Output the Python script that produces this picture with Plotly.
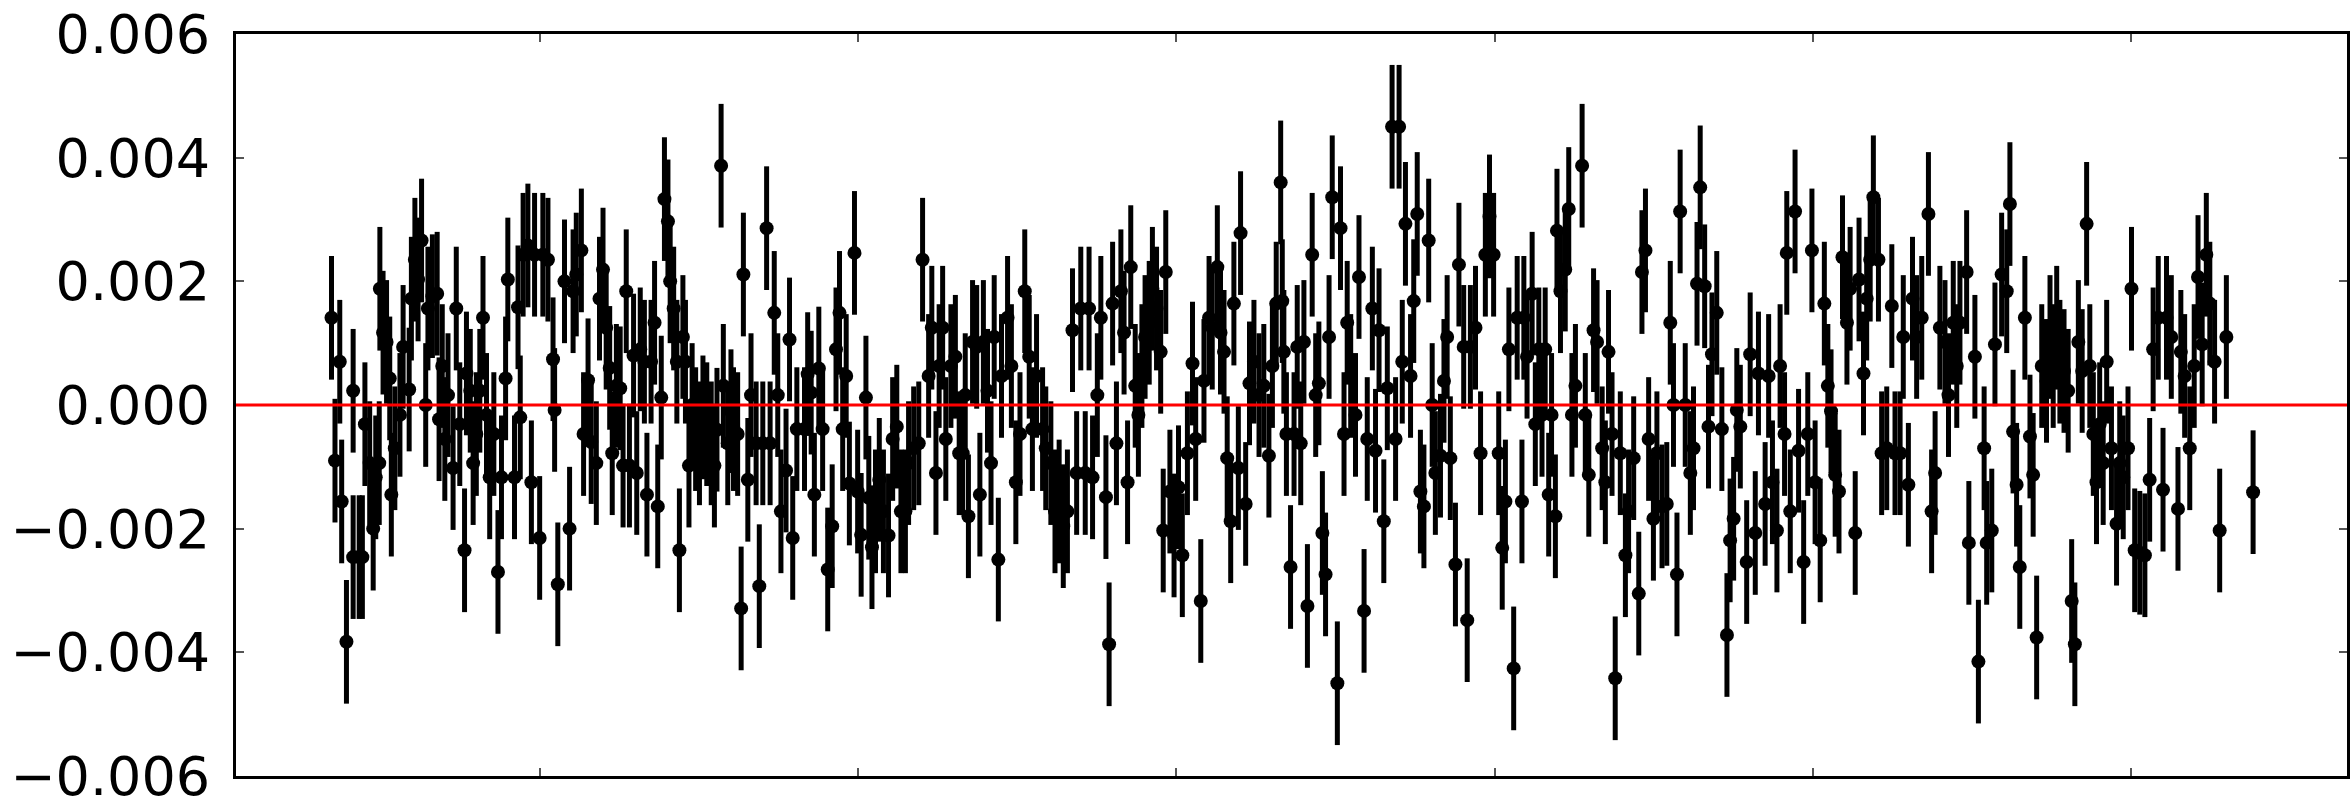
import plotly.graph_objects as go

# Residuals (units of 1e-3) against time; every point carries the same 1-sigma error.
time_1 = [34.6, 35.7, 37.2, 37.8, 39.3, 41.4, 41.4, 43.3, 44.3, 45.1, 46.6, 47.7, 48.5, 49.6, 49.8,
          50.8, 51.9, 52.9, 53.4, 54.5, 56.1, 57.1, 59.0, 59.7, 60.8, 61.8, 62.9, 64.2, 64.9, 66.3,
          67.8, 68.4, 69.4, 70.2, 71.2, 72.8, 73.8, 74.9, 76.4, 77.0, 78.2, 79.1, 80.1, 81.2, 82.2,
          83.3, 84.3, 85.6, 86.9, 88.0, 89.3, 90.0, 92.1, 93.2, 93.9, 94.8, 96.3, 97.4, 98.4, 100.0,
          101.0, 102.6, 104.2, 104.7, 105.7]
resid_1 = [1.41, -0.90, 0.70, -1.56, -3.83, 0.23, -2.46, -2.46, -2.46, -0.31, -0.94, -2.00, -1.17, -0.94, 1.88,
           1.17, 1.02, 0.43, -1.45, -0.70, -0.16, 0.94, 0.25, 1.72, 2.35, 2.03, 2.66, 0.00, 1.56, 1.76,
           1.80, -0.23, 0.63, -0.55, 0.16, -1.02, 1.56, -0.31, -2.35, 0.51, 0.23, -0.94, -0.47, 0.23, 1.41,
           -0.16, -1.17, -0.47, -2.70, -1.17, 0.43, 2.03, -1.17, 1.58, -0.20, 2.43, 2.58, -1.25, 2.43, -2.15,
           2.43, 2.35, 0.74, -0.08, -2.90]

time_2 = [107.8, 109.4, 110.5, 111.5, 113.1, 113.8, 115.2, 116.2, 117.8, 118.8, 119.9, 120.9, 122.0, 122.8,
          124.1, 125.3, 126.2, 127.2, 128.2, 129.5, 130.5, 131.6, 132.9, 133.7, 135.0, 136.1, 137.1, 138.2,
          139.2, 140.3, 141.0, 142.1, 143.1, 143.9, 145.0, 145.8, 146.9, 147.9, 149.0, 150.2, 151.3, 152.5,
          153.9, 154.9, 155.7, 157.0, 157.7, 159.1, 160.1, 160.9, 162.2, 163.3, 164.0, 165.4, 166.4, 168.0,
          169.0, 170.1, 171.3, 172.4, 173.7, 174.8, 175.8, 177.4, 178.5, 179.5, 180.8]
resid_2 = [2.00, -2.00, 1.84, 2.11, 2.50, -0.47, 0.40, -0.60, -0.94, 1.72, 2.19, 1.25, 0.60, -0.78,
           0.31, 0.27, -0.98, 1.84, -0.98, 0.80, -1.10, 0.90, 0.70, -1.45, 0.70, 1.33, -1.64, 0.12,
           3.33, 2.97, 2.00, 1.56, 0.70, -2.35, 1.10, 0.70, -0.98, 0.00, -0.39, -0.62, -0.20, -0.31,
           -0.62, -0.98, -0.40, 3.87, 0.31, -0.62, -0.10, -0.39, -0.47, -3.29, 2.11, -1.21, 0.16, -0.62,
           -2.93, -0.62, 2.86, -0.62, 1.49, 0.16, -1.72, -1.06, 1.06, -2.15, -0.39]

time_3 = [183.2, 184.2, 185.3, 186.3, 187.7, 188.9, 190.5, 191.9, 193.1, 194.2, 195.2, 196.3, 197.3, 198.9,
          199.9, 201.0, 202.5, 203.4, 204.4, 205.5, 206.7, 208.0, 209.6, 210.9, 212.2, 213.5, 214.9, 215.9,
          217.5, 219.1, 220.3, 222.2, 223.2, 224.5, 225.5, 226.6, 227.6, 229.2, 230.6, 231.8, 232.9, 233.7,
          234.7, 236.0, 237.3, 238.3, 239.4, 240.7, 241.8, 242.8, 244.1, 245.1, 247.0, 248.2, 249.6, 250.9,
          252.4, 253.8, 254.8, 256.1]
resid_3 = [-0.39, 0.50, 0.20, -1.45, 0.59, -0.39, -2.66, -1.96, 0.90, 1.49, -0.39, 0.47, -1.27, 2.46,
           -1.40, -2.10, 0.12, -1.50, -2.30, -1.72, -1.21, -1.72, -2.11, -0.55, -0.35, -1.72, -1.72, -0.94,
           -0.70, -0.62, 2.35, 0.47, 1.25, -1.10, 0.63, 1.25, -0.55, 0.63, 0.78, -0.78, -0.78, 0.16,
           -1.80, 1.02, 0.94, -1.45, 1.02, 0.23, -0.94, 1.10, -2.50, 0.47, 1.41, 0.63, -1.25, -0.47,
           1.84, 0.78, -0.39, 0.47]

time_4 = [258.0, 259.0, 260.6, 261.9, 263.2, 264.5, 265.8, 267.4, 268.7, 270.0, 271.4, 272.6, 273.7, 275.2,
          276.3, 277.9, 278.9, 280.0, 281.2, 282.6, 283.6, 284.7, 285.7, 287.1, 288.1, 289.2, 290.2, 291.5,
          292.5, 293.8, 295.1, 295.9, 296.7, 298.0, 299.3, 300.7, 301.9, 303.5, 305.1, 306.1, 307.7, 308.7,
          310.3, 311.3, 312.9, 313.9, 315.0, 316.0, 317.1, 318.1, 319.5, 320.2, 321.8, 323.0, 324.4, 326.0,
          327.5, 329.1, 330.2, 331.4, 332.8]
resid_4 = [-0.39, -0.70, -0.94, -1.72, -1.56, -1.96, -1.72, 1.21, -1.10, 1.56, -1.10, 1.56, -1.17, 0.16,
           1.41, -1.49, -3.87, 1.64, -0.62, 1.84, 1.17, -1.25, 2.23, 0.31, -0.16, 0.63, 1.10, 1.33,
           1.88, 1.56, 0.86, -2.03, 2.15, -1.40, -2.11, -1.33, -2.43, -0.78, 0.67, -0.55, -3.17, 0.39,
           1.41, 1.25, 2.23, 1.17, 0.86, -0.86, -1.88, 1.64, -1.02, 2.78, -1.60, 0.35, 0.70, 0.16,
           0.31, -0.82, 0.63, 1.64, 3.60]

time_5 = [333.3, 333.8, 334.6, 335.9, 337.0, 338.0, 339.1, 340.1, 341.2, 342.7, 343.8, 344.8, 345.9, 346.9,
          348.0, 349.0, 350.6, 351.6, 352.7, 353.7, 354.8, 356.3, 357.4, 359.0, 360.0, 361.6, 362.6, 363.7,
          365.2, 366.3, 367.8, 368.9, 370.0, 371.0, 372.0, 373.6, 374.6, 375.7, 376.7, 377.8, 379.3, 380.4,
          381.4, 383.0, 384.1, 385.1, 386.1, 387.7, 388.8, 390.3, 391.4, 392.4, 394.0, 395.6, 397.1, 398.4,
          399.7, 401.3, 402.4, 403.4, 404.5, 406.0, 407.1]
resid_5 = [1.68, 0.86, -0.47, -2.62, -0.47, 0.94, -0.62, 1.02, -3.25, 2.43, 0.16, 0.35, -2.07, -2.74,
           1.10, 3.36, -4.50, 2.86, -0.47, 1.33, 0.47, -0.16, 2.07, -3.33, -0.55, 1.56, -0.74, 1.21,
           -1.88, 0.27, 4.50, -0.55, 4.50, 0.70, 2.93, 0.47, 1.68, 3.09, -1.40, -1.64, 2.66, 0.00,
           -1.10, -0.82, 0.39, 1.10, -0.86, -2.58, 2.27, 0.94, -3.48, 0.94, 1.25, -0.78, 2.43, 3.05,
           2.43, -0.78, -2.31, -1.56, 0.90, -4.26, 1.41]

time_6 = [408.6, 409.2, 410.2, 411.8, 412.8, 413.9, 414.9, 415.9, 417.0, 417.9, 419.1, 419.6, 420.7, 422.2,
          423.3, 424.3, 425.4, 427.5, 428.5, 429.6, 431.1, 432.2, 433.8, 434.8, 435.8, 436.9, 437.9, 439.5,
          441.1, 442.1, 443.7, 445.3, 446.3, 447.4, 448.4, 449.9, 451.0, 452.6, 454.1, 455.2, 456.2, 457.3,
          458.3, 459.9, 461.5, 462.5, 463.6, 464.6, 466.0, 467.2, 468.3, 469.8, 471.4, 473.0, 474.0, 475.1,
          476.1, 477.2, 479.2, 480.3, 481.9, 482.9]
resid_6 = [-1.56, 1.41, 0.78, 1.80, -0.31, 0.90, -0.16, 0.90, -1.45, -0.16, -1.80, 2.82, 1.84, 2.19,
           3.17, -0.16, 0.31, 3.87, -0.16, -1.13, 1.21, 1.02, -0.70, -1.25, 0.86, -0.47, -4.42, -0.78,
           -2.43, -1.72, -0.86, -3.05, 2.15, 2.50, -0.55, -1.84, -0.78, -1.64, -1.60, 1.33, 0.00, -2.74,
           3.13, 0.00, -1.10, -0.70, 1.96, 3.52, 1.92, -0.35, 0.82, 1.49, -0.39, -3.72, -2.19, -1.84,
           -0.08, -0.35, -2.54, 0.82, -2.07, 0.51]

time_7 = [485.0, 486.1, 487.3, 488.7, 489.7, 491.1, 491.8, 492.9, 494.4, 495.5, 497.1, 498.4, 499.7, 500.7,
          502.3, 503.6, 504.7, 505.7, 507.0, 508.2, 509.3, 510.7, 511.7, 513.3, 514.5, 515.9, 516.9, 518.0,
          519.0, 520.6, 521.6, 523.2, 524.8, 525.8, 527.4, 528.4, 530.0, 531.3, 532.6, 534.2, 536.3, 537.3,
          538.4, 539.9, 541.5, 542.6, 544.1, 545.2, 546.2, 548.3, 549.0, 550.9, 552.0, 553.8, 554.6, 556.2,
          557.2]
resid_7 = [-1.60, 0.47, -1.25, -2.03, 0.63, -0.47, 2.46, -1.72, 3.13, -0.74, -2.54, -0.47, 2.50, -1.25,
           -2.19, 1.64, 0.31, -0.10, -1.13, -1.40, 2.39, 1.33, 1.88, -2.07, 2.03, 0.51, 1.72, 2.35,
           3.36, 2.35, -0.78, -0.70, 1.60, -0.78, -0.78, 1.10, -1.29, 1.72, 1.10, 1.41, 3.09, -1.72,
           -1.10, 1.25, 1.02, 0.16, 1.33, 0.63, 1.33, 2.15, -2.23, 0.78, -4.15, -0.70, -2.23, -2.03,
           0.98]

time_8 = [559.3, 560.9, 561.9, 562.9, 564.0, 565.0, 566.6, 568.2, 569.2, 570.3, 571.9, 573.4, 574.5, 575.5,
          576.6, 577.6, 578.9, 580.2, 581.3, 582.3, 583.4, 584.6, 586.0, 587.0, 588.1, 589.1, 590.1, 591.2,
          592.3, 593.8, 595.4, 596.4, 597.5, 599.0, 600.1, 601.1, 602.7, 604.3, 605.8, 606.9, 608.5, 610.0,
          611.1, 612.6, 614.7, 615.6, 616.8, 618.4, 619.8, 621.0, 622.3, 623.6, 624.7, 626.2, 627.8, 629.9,
          638.3]
resid_8 = [2.11, 1.84, 3.25, -0.43, -1.29, -2.62, 1.41, -0.51, -1.13, -3.76, 0.63, 0.39, 1.10, 0.63,
           1.25, 0.70, 0.55, 0.23, -3.17, -3.87, 1.02, 0.55, 2.93, 0.63, -0.47, -1.25, -0.31, -0.94,
           0.70, -0.70, -1.92, -0.94, -1.17, -0.70, 1.88, -2.35, -2.39, -2.43, -1.21, 0.90, 1.41, -1.37,
           1.41, 1.10, -1.68, 0.86, 0.47, -0.70, 0.63, 2.07, 0.98, 2.43, 1.64, 0.70, -2.03, 1.10,
           -1.41]

sigma = 1.0e-3            # error on each residual
y_ticks = [-0.006, -0.004, -0.002, 0.0, 0.002, 0.004, 0.006]
x_ticks = [100, 200, 300, 400, 500, 600]
x_range = [4.6, 667.8]
y_range = [-0.0060002, 0.0060002]

time = time_1 + time_2 + time_3 + time_4 + time_5 + time_6 + time_7 + time_8
resid = [v * 1e-3 for v in
         resid_1 + resid_2 + resid_3 + resid_4 + resid_5 + resid_6 + resid_7 + resid_8]

fig = go.Figure()
fig.add_trace(go.Scatter(
    x=time, y=resid, mode="markers",
    marker=dict(color="black", size=14, line=dict(width=0)),
    error_y=dict(type="constant", value=sigma, color="black", thickness=5, width=0),
    showlegend=False, hoverinfo="skip",
))

# zero reference line drawn over the data
fig.add_shape(type="line", xref="paper", x0=0, x1=1, yref="y", y0=0, y1=0,
              line=dict(color="red", width=3), layer="above")

axis_common = dict(
    showline=True, linecolor="black", linewidth=3, mirror="ticks",
    ticks="inside", ticklen=8, tickwidth=2, tickcolor="#555555",
    showgrid=False, zeroline=False,
)

fig.update_xaxes(range=x_range, tickvals=x_ticks, showticklabels=False, **axis_common)
fig.update_yaxes(range=y_range, tickvals=y_ticks, tickformat=".3f",
                 tickfont=dict(family="DejaVu Sans", size=54, color="black"),
                 ticklabelstandoff=12, ticklabeloverflow="allow", **axis_common)

fig.update_layout(
    width=2352, height=810,
    margin=dict(l=236, r=2, t=34, b=28),
    paper_bgcolor="white", plot_bgcolor="white",
)

fig.write_html("out.html")
